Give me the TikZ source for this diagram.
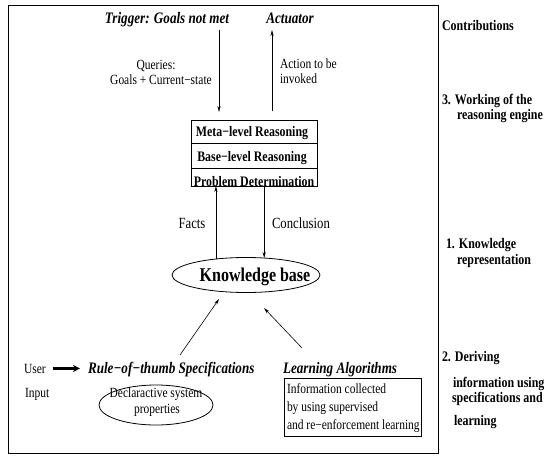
\documentclass[tikz,border=0pt]{standalone}
\usepackage{fontspec}
\setmainfont{Liberation Serif}[FakeStretch=0.82]
\usetikzlibrary{arrows.meta,shapes.geometric}
\newcommand\szN{\fontsize{14}{16}\selectfont}
\newcommand\szM{\fontsize{15.5}{18}\selectfont}
\newcommand\szH{\fontsize{16}{18}\selectfont\bfseries\itshape}
\newcommand\szB{\fontsize{14.5}{16}\selectfont\bfseries}
\newcommand\szK{\fontsize{19.5}{22}\selectfont\bfseries}
\newcommand\szR{\fontsize{14.6}{17}\selectfont\bfseries}
\begin{document}
\begin{tikzpicture}[x=1pt,y=-1pt,
  every node/.style={inner sep=0pt, outer sep=0pt},
  lbl/.style={anchor=base, font=\szN},
  lblw/.style={anchor=base west, font=\szN},
  arr/.style={-{Stealth[length=6pt,width=3.2pt]}, line width=0.6pt},
  bigarr/.style={-{Stealth[length=7pt,width=7pt]}, line width=2.6pt},
  row/.style={draw, line width=0.8pt, minimum width=126pt, inner sep=0pt},
  thinbox/.style={draw, line width=0.8pt}
]
\useasboundingbox (0,0) rectangle (548,465);
\node[thinbox, minimum width=430pt, minimum height=448pt, anchor=north west] (frame) at (8,5) {};

% top
\node[lbl] (trig) at (167,24) {\szH Trigger: Goals not met};
\node[lbl] (act) at (290,24) {\szH Actuator};
\coordinate (qTop) at (219,30); \coordinate (qBot) at (219,112);
\draw[arr] (qTop) -- (qBot);
\coordinate (aBot) at (272,111); \coordinate (aTop) at (272,30);
\draw[arr] (aBot) -- (aTop);
\node[lbl] (q1) at (156,70) {Queries:};
\node[lbl] (q2) at (161,85) {Goals + Current−state};
\node[lblw] (a1) at (280,69) {Action to be};
\node[lblw] (a2) at (280,84) {invoked};

% reasoning engine
\node[row, minimum height=23pt, anchor=north] (meta) at (254,120) {};
\node[row, minimum height=25pt, anchor=north] (base) at (meta.south) {};
\node[row, minimum height=18pt, anchor=north] (prob) at (base.south) {};
\node[lbl] (metat) at (252,137) {\szB Meta−level Reasoning};
\node[lbl] (baset) at (252,161) {\szB Base−level Reasoning};
\node[lbl] (probt) at (254,186) {\szB Problem Determination};

% knowledge base
\node[draw, ellipse, line width=0.8pt, minimum width=148pt, minimum height=35pt] (kb) at (246,275) {};
\node[lbl] (kbt) at (255,281) {\szK Knowledge base};
\draw[arr] (kb.152.7) -- (kb.152.7 |- prob.south);
\draw[arr] (kb.43.2 |- prob.south) -- (kb.43.2);
\node[lbl, font=\szM] (facts) at (192,228) {Facts};
\node[lblw, font=\szM] (concl) at (272,228) {Conclusion};

% right column
\node[lblw] (c0) at (442,31) {\szR Contributions};
\node[lblw] (c3a) at (442,105) {\szR 3. Working of the};
\node[lblw] (c3b) at (457,120) {\szR reasoning engine};
\node[lblw] (c1a) at (446,248) {\szR 1. Knowledge};
\node[lblw] (c1b) at (457,264) {\szR representation};
\node[lblw] (c2a) at (442,361) {\szR 2. Deriving};
\node[lblw] (c2b) at (453,387) {\szR information using};
\node[lblw] (c2c) at (452,402) {\szR specifications and};
\node[lblw] (c2d) at (454,425) {\szR learning};

% bottom left
\node[lblw] (user) at (24,373) {User};
\node[lblw] (input) at (25,397) {Input};
\node[lblw] (rule) at (88,373) {\szH Rule−of−thumb Specifications};
\draw[bigarr, shorten <=7pt, shorten >=8pt] (user.east) -- (user.east -| rule.west);
\node[draw, ellipse, line width=0.8pt, minimum width=114pt, minimum height=40pt] (decl) at (156,405) {};
\node[lbl] (d1) at (156,397) {Declaractive system};
\node[lbl] (d2) at (157,413) {properties};

% bottom right
\node[lblw] (learn) at (283,373) {\szH Learning Algorithms};
\node[thinbox, minimum width=137pt, minimum height=58pt, anchor=north west] (lbox) at (284,378) {};
\node[lblw] (l1) at (287,393) {Information collected};
\node[lblw] (l2) at (287,411) {by using supervised};
\node[lblw] (l3) at (287,429) {and re−enforcement learning};

% arrows into knowledge base
\coordinate (r1) at (180,355); \coordinate (r2) at (219,299);
\draw[arr] (r1) -- (r2);
\coordinate (s1) at (302,348); \coordinate (s2) at (264,308);
\draw[arr] (s1) -- (s2);
\end{tikzpicture}
\end{document}
